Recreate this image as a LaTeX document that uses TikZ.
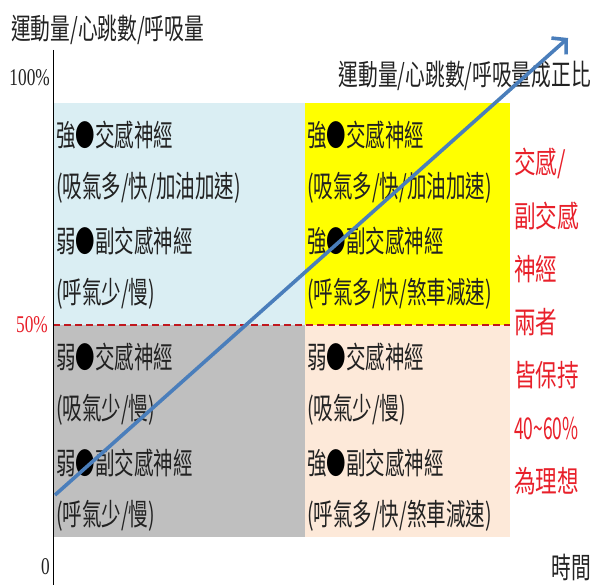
\documentclass[tikz,border=0pt]{standalone}
\usepackage{fontspec}
\newfontfamily\cjk[FakeStretch=0.65]{Noto Sans CJK TC}
\newfontfamily\cjkw[FakeStretch=0.68]{Noto Sans CJK TC}
\newfontfamily\cjkr[FakeStretch=0.72]{Noto Sans CJK TC}
\newfontfamily\cjkn[FakeStretch=0.58]{Noto Sans CJK TC}
\newfontfamily\numf[FakeStretch=0.72]{Liberation Serif}
\usetikzlibrary{arrows.meta}
\definecolor{qblue}{HTML}{DAEEF3}
\definecolor{qyellow}{HTML}{FFFF00}
\definecolor{qgrey}{HTML}{BFBFBF}
\definecolor{qpeach}{HTML}{FDE9D9}
\definecolor{qred}{HTML}{E8202A}
\definecolor{qdash}{HTML}{C0181E}
\definecolor{qarrow}{HTML}{4A7EBB}
\definecolor{qtext}{HTML}{222222}
\newcommand{\qdot}{\textcolor{black}{●}}
\tikzset{
  qtxt/.style={anchor=west, inner sep=0pt, text=qtext, font=\cjk\fontsize{30}{30}\selectfont},
  rtxt/.style={anchor=west, inner sep=0pt, text=qred, font=\cjkr\fontsize{30}{30}\selectfont},
  ltxt/.style={inner sep=0pt, text=qtext, font=\cjkw\fontsize{29}{29}\selectfont},
  axnum/.style={inner sep=0pt, text=qtext, font=\numf\fontsize{24}{24}\selectfont},
}
\begin{document}
\begin{tikzpicture}[x=1pt,y=-1pt]
\useasboundingbox (0,0) rectangle (593,585);
% quadrants
\fill[qblue] (53,103) rectangle (305,325);
\fill[qyellow] (305,103) rectangle (510,325);
\fill[qgrey] (53,325) rectangle (305,537);
\fill[qpeach] (305,325) rectangle (510,537);
% dashed 50% line
\coordinate (d1) at (53,325);
\coordinate (d2) at (510,325);
\draw[qdash, line width=1.8pt, dash pattern=on 7pt off 4pt] (d1) -- (d2);
% axis
\coordinate (ax1) at (53,50);
\coordinate (ax2) at (53,585);
\draw[black, line width=0.9pt] (ax1) -- (ax2);
% axis labels
\node[ltxt, anchor=west] (ylab) at (11,30) {運動量/心跳數/呼吸量};
\node[axnum, anchor=east] (p100) at (50,78) {100\%};
\node[axnum, anchor=east, text=qred] (p50) at (48,325) {50\%};
\node[axnum, anchor=east] (p0) at (50,567) {0};
\node[ltxt, anchor=east] (xlab) at (591,567) {時間};
\node[ltxt, anchor=east] (prop) at (591,76) {運動量/心跳數/呼吸量成正比};
% top-left
\node[qtxt] (a1) at (56,135) {強\qdot 交感神經};
\node[qtxt] (a2) at (56,188) {(吸氣多/快/加油加速)};
\node[qtxt] (a3) at (56,241) {弱\qdot 副交感神經};
\node[qtxt] (a4) at (56,294) {(呼氣少/慢)};
% top-right
\node[qtxt] (b1) at (307,135) {強\qdot 交感神經};
\node[qtxt] (b2) at (307,188) {(吸氣多/快/加油加速)};
\node[qtxt] (b3) at (307,241) {強\qdot 副交感神經};
\node[qtxt] (b4) at (307,294) {(呼氣多/快/煞車減速)};
% bottom-left
\node[qtxt] (c1) at (56,357) {弱\qdot 交感神經};
\node[qtxt] (c2) at (56,410) {(吸氣少/慢)};
\node[qtxt] (c3) at (56,463) {弱\qdot 副交感神經};
\node[qtxt] (c4) at (56,516) {(呼氣少/慢)};
% bottom-right
\node[qtxt] (e1) at (307,357) {弱\qdot 交感神經};
\node[qtxt] (e2) at (307,410) {(吸氣少/慢)};
\node[qtxt] (e3) at (307,463) {強\qdot 副交感神經};
\node[qtxt] (e4) at (307,516) {(呼氣多/快/煞車減速)};
% red side note
\node[rtxt] (r1) at (514,163) {交感/};
\node[rtxt] (r2) at (514,216) {副交感};
\node[rtxt] (r3) at (514,269) {神經};
\node[rtxt] (r4) at (514,322) {兩者};
\node[rtxt] (r5) at (514,375) {皆保持};
\node[rtxt, font=\cjkn\fontsize{30}{30}\selectfont] (r6) at (514,428) {40\textasciitilde60\%};
\node[rtxt] (r7) at (514,481) {為理想};
% trend arrow
\coordinate (t1) at (55,495);
\coordinate (t2) at (568,38);
\draw[qarrow, line width=3.6pt, -{Straight Barb[length=10pt,width=22pt]}] (t1) -- (t2);
\end{tikzpicture}
\end{document}
